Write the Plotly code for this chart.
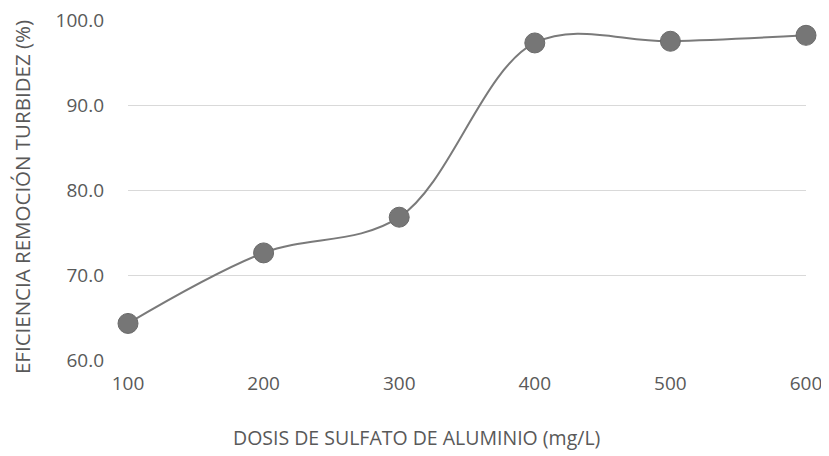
import plotly.graph_objects as go

dosis = [100, 200, 300, 400, 500, 600]
eficiencia = [64.3, 72.6, 76.8, 97.3, 97.5, 98.2]
y_ticks = [60, 70, 80, 90, 100]
x_title = "DOSIS DE SULFATO DE ALUMINIO (mg/L)"
y_title = "EFICIENCIA REMOCIÓN TURBIDEZ (%)"

fig = go.Figure()
fig.add_trace(go.Scatter(
    x=dosis, y=eficiencia, mode="lines+markers",
    line=dict(color="#7a7a7a", width=2, shape="spline", smoothing=1.0),
    marker=dict(color="#767676", size=20, line=dict(color="#6a6a6a", width=1)),
    cliponaxis=False, showlegend=False,
))

font_family = "Open Sans, Liberation Sans, sans-serif"
fig.update_layout(
    width=821, height=448,
    margin=dict(l=120, r=23, t=12, b=96, autoexpand=False),
    plot_bgcolor="white", paper_bgcolor="white",
    font=dict(family=font_family, color="#595959", size=19),
    xaxis=dict(
        range=[100, 600], tickvals=dosis, showgrid=False, zeroline=False,
        showline=False, ticks="", ticklabelstandoff=10,
        tickfont=dict(size=19, color="#595959"), ticklabeloverflow="allow",
        automargin=False,
    ),
    yaxis=dict(
        range=[60, 100], tickvals=y_ticks, tickformat=".1f",
        showgrid=True, gridcolor="#d9d9d9", gridwidth=1, zeroline=False,
        showline=False, ticks="", ticklabelstandoff=23,
        tickfont=dict(size=19, color="#595959"), ticklabeloverflow="allow",
        automargin=False,
    ),
    annotations=[
        dict(text=x_title, xref="paper", yref="paper", x=0.4248, y=-0.2287,
             showarrow=False, xanchor="center", yanchor="middle",
             font=dict(size=19.5, color="#595959", family=font_family)),
        dict(text=y_title, xref="paper", yref="paper", x=-0.1555, y=0.478,
             showarrow=False, xanchor="center", yanchor="middle", textangle=-90,
             font=dict(size=20.5, color="#595959", family=font_family)),
    ],
)

fig.write_html("out.html")
